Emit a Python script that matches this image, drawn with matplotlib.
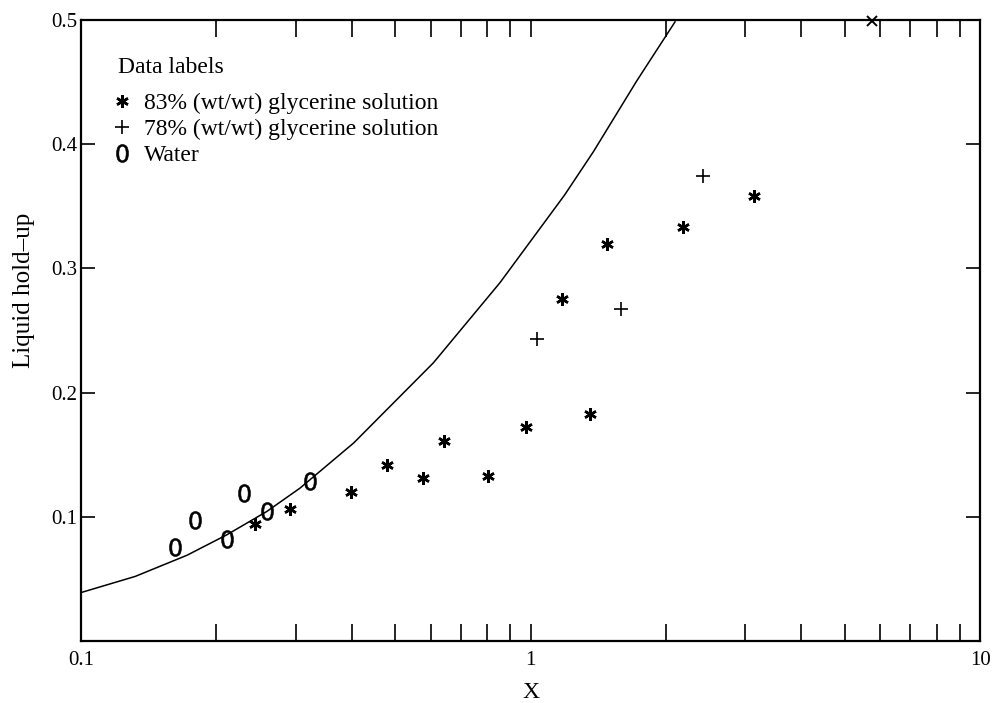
import numpy as np
import matplotlib
matplotlib.use("Agg")
from matplotlib import pyplot as plt
from matplotlib.ticker import FixedLocator, FixedFormatter, NullFormatter

plt.rcParams['font.family'] = ['Liberation Serif', 'DejaVu Serif']
plt.rcParams['mathtext.fontset'] = 'dejavusans'

# theory curve
curve_x = [0.100, 0.132, 0.172, 0.211, 0.259, 0.307, 0.404, 0.608,
           0.855, 1.19, 1.38, 1.723, 2.096]
curve_y = [0.039, 0.052, 0.069, 0.0855, 0.1043, 0.1231, 0.1594, 0.224,
           0.2885, 0.359, 0.394, 0.451, 0.4985]

# 83% glycerine
gly83_x = [0.244, 0.292, 0.398, 0.479, 0.576, 0.642, 0.806, 0.976, 1.175, 1.356, 1.477, 2.188, 3.143]
gly83_y = [0.094, 0.1065, 0.120, 0.142, 0.131, 0.161, 0.133, 0.172, 0.2756, 0.1828, 0.3194, 0.3333, 0.3583]
# point sitting on the top border
gly83_top_x = [5.74]
gly83_top_y = [0.499]

# 78% glycerine
gly78_x = [1.035, 1.59, 2.416]
gly78_y = [0.2435, 0.2675, 0.3745]

# water
water_x = [0.162, 0.179, 0.211, 0.231, 0.259, 0.323]
water_y = [0.076, 0.0976, 0.0823, 0.119, 0.1048, 0.129]

fig = plt.figure(figsize=(9.92, 7.03), dpi=100)
ax = fig.add_axes([0.0817, 0.0882, 0.9063, 0.8834])

ax.plot(curve_x, curve_y, color='black', lw=1.1, solid_joinstyle='round')
h83, = ax.plot(gly83_x, gly83_y, ls='none', marker=(6, 2, 0), ms=9, mew=1.8, color='black',
               label='83% (wt/wt) glycerine solution')
ax.plot(gly83_top_x, gly83_top_y, ls='none', marker='x', ms=7, mew=1.4, color='black', clip_on=False)
h78, = ax.plot(gly78_x, gly78_y, ls='none', marker='+', ms=10, mew=1.2, color='black',
               label='78% (wt/wt) glycerine solution')
hw, = ax.plot(water_x, water_y, ls='none', marker='$0$', ms=13, mew=0.4, color='black',
              label='Water')

ax.set_xscale('log')
ax.set_xlim(0.1, 10)
ax.set_ylim(0, 0.5)

ax.xaxis.set_major_locator(FixedLocator([0.1, 1, 10]))
ax.xaxis.set_major_formatter(FixedFormatter(['0.1', '1', '10']))
minor = [m * d for d in (0.1, 1) for m in range(2, 10)]
ax.xaxis.set_minor_locator(FixedLocator(minor))
ax.xaxis.set_minor_formatter(NullFormatter())
ax.set_yticks([0.1, 0.2, 0.3, 0.4, 0.5])
ax.set_yticklabels(['0.1', '0.2', '0.3', '0.4', '0.5'])

ax.tick_params(axis='x', which='both', direction='in', length=12, width=1.2,
               top=True, labelsize=15, pad=7)
ax.tick_params(axis='y', which='both', direction='in', length=10, width=1.2,
               right=True, labelsize=15, pad=3)
for s in ax.spines.values():
    s.set_linewidth(1.6)

ax.set_xlabel('X', fontsize=17, labelpad=9)
ax.set_ylabel('Liquid hold–up', fontsize=18)
ax.yaxis.set_label_coords(-0.051, 0.565)

leg = ax.legend(handles=[h83, h78, hw], title='Data labels', loc='upper left',
                bbox_to_anchor=(0.031, 0.955), frameon=False, fontsize=17,
                title_fontsize=17, alignment='left', handlelength=0.3,
                handletextpad=0.8, labelspacing=0.2, borderaxespad=0)
leg._legend_box.sep = 10

fig.savefig('out.png', dpi=100)
